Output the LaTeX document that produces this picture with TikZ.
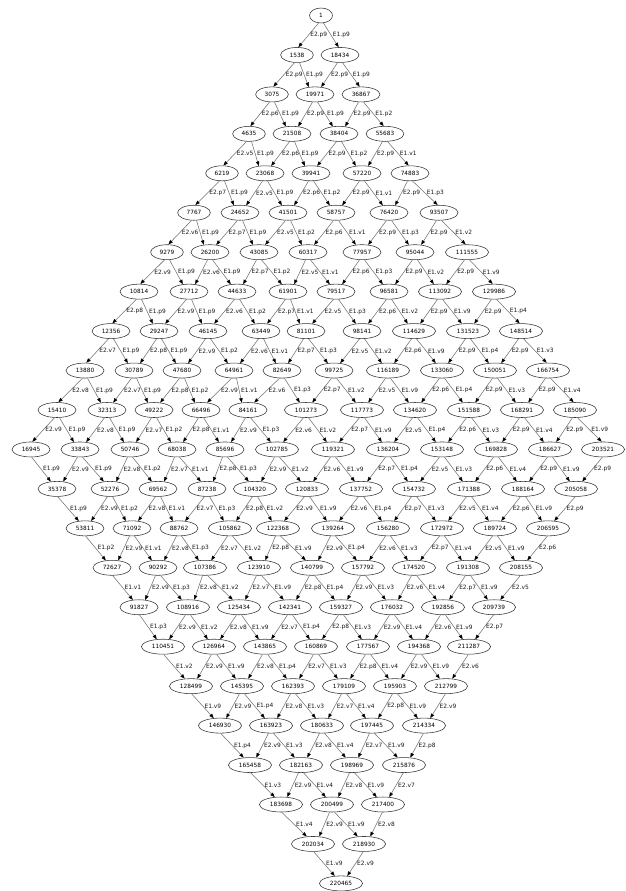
\documentclass[tikz,border=0pt]{standalone}
\usepackage{fontspec}
\setmainfont{DejaVu Sans}
\usetikzlibrary{shapes.geometric,arrows.meta}
\begin{document}
\begin{tikzpicture}[x=1pt,y=1pt,
  nd/.style={ellipse, draw=black!80, line width=0.55pt, inner xsep=4.2pt, inner ysep=0.5pt,
    minimum height=15pt, minimum width=23pt, font=\fontsize{5.8}{6}\selectfont},
  ed/.style={draw=black!55, line width=0.55pt, -{Triangle[length=4.5pt,width=3.4pt,color=black]}},
  lab/.style={anchor=west, inner sep=0pt, xshift=1.6pt, font=\fontsize{5.9}{6}\selectfont, text=black!90}]
\fill[white] (0,0) rectangle (626,-891);
\useasboundingbox (0,0) rectangle (626,-891);
\foreach \a/\b/\x/\v in {
0/0/321/1,
1/0/297/1538, 0/1/340/18434,
2/0/272/3075, 1/1/315/19971, 0/2/361/36867,
3/0/249/4635, 2/1/292/21508, 1/2/339/38404, 0/3/385/55683,
4/0/222/6219, 3/1/265/23068, 2/2/311/39941, 1/3/362/57220, 0/4/410/74883,
5/0/194/7767, 4/1/240/24652, 3/2/288/41501, 2/3/336/58757, 1/4/389/76420, 0/5/439/93507,
6/0/167/9279, 5/1/210/26200, 4/2/259/43085, 3/3/308/60317, 2/4/362/77957, 1/5/415/95044, 0/6/467/111555,
7/0/139/10814, 6/1/189/27712, 5/2/237/44633, 4/3/288/61901, 3/4/336/79517, 2/5/389/96581, 1/6/440/113092, 0/7/494/129986,
8/0/111/12356, 7/1/159/29247, 6/2/208/46145, 5/3/261/63449, 4/4/306/81101, 3/5/362/98141, 2/6/414/114629, 1/7/468/131523, 0/8/521/148514,
9/0/85/13880, 8/1/134/30789, 7/2/182/47680, 6/3/234/64961, 5/4/282/82649, 4/5/334/99725, 3/6/388/116189, 2/7/442/133060, 1/8/495/150051, 0/9/548/166754,
10/0/57/15410, 9/1/107/32313, 8/2/154/49222, 7/3/201/66496, 6/4/248/84161, 5/5/306/101273, 4/6/362/117773, 3/7/415/134620, 2/8/469/151588, 1/9/522/168291, 0/10/575/185090,
11/0/31/16945, 10/1/80/33843, 9/2/130/50746, 8/3/177/68038, 7/4/225/85696, 6/5/277/102785, 5/6/333/119321, 4/7/388/136204, 3/8/442/153148, 2/9/496/169828, 1/10/550/186627, 0/11/603/203521,
11/1/57/35378, 10/2/110/52276, 9/3/158/69562, 8/4/207/87238, 7/5/255/104320, 6/6/307/120833, 5/7/361/137752, 4/8/414/154732, 3/9/469/171388, 2/10/523/188164, 1/11/576/205058,
11/2/85/53811, 10/3/132/71092, 9/4/179/88762, 8/5/230/105862, 7/6/278/122368, 6/7/333/139264, 5/8/388/156280, 4/9/442/172972, 3/10/495/189724, 2/11/548/206595,
11/3/112/72627, 10/4/158/90292, 9/5/205/107386, 8/6/259/123910, 7/7/312/140799, 6/8/363/157792, 5/9/414/174520, 4/10/468/191308, 3/11/521/208155,
11/4/139/91827, 10/5/188/108916, 9/6/239/125434, 8/7/290/142341, 7/8/341/159327, 6/9/392/176032, 5/10/443/192856, 4/11/494/209739,
11/5/163/110451, 10/6/214/126964, 9/7/265/143865, 8/8/316/160869, 7/9/368/177567, 6/10/419/194368, 5/11/469/211287,
11/6/191/128499, 10/7/242/145395, 9/8/293/162393, 8/9/344/179109, 7/10/395/195903, 6/11/446/212799,
11/7/220/146930, 10/8/271/163923, 9/9/322/180633, 8/10/372/197445, 7/11/424/214334,
11/8/250/165458, 10/9/301/182163, 9/10/352/198969, 8/11/404/215876,
11/9/281/183698, 10/10/332/200499, 9/11/383/217400,
11/10/313/202034, 10/11/364/218930,
11/11/341/220465}{
  \pgfmathsetmacro\yy{-(15.5+39.45*(\a+\b))}
  \node[nd] (n-\a-\b) at (\x,\yy) {\v};
}
% E2 edges (down-left), label depends on source a
\foreach \a/\l in {0/p9,1/p9,2/p6,3/v5,4/p7,5/v6,6/v9,7/p8,8/v7,9/v8,10/v9}{
  \pgfmathtruncatemacro\na{\a+1}
  \foreach \b in {0,...,11}{
    \ifnum\b=0 \def\ta{80}\else\def\ta{50}\fi
    \ifnum\b=11 \def\sa{-95}\else\def\sa{-108}\fi
    \draw[ed] (n-\a-\b.\sa) -- node[lab]{E2.\l} (n-\na-\b.\ta);
  }
}
% E1 edges (down-right), label depends on source b
\foreach \b/\l in {0/p9,1/p9,2/p2,3/v1,4/p3,5/v2,6/v9,7/p4,8/v3,9/v4,10/v9}{
  \pgfmathtruncatemacro\nb{\b+1}
  \foreach \a in {0,...,11}{
    \ifnum\a=0 \def\ta{100}\else\def\ta{130}\fi
    \ifnum\a=11 \def\sa{-85}\else\def\sa{-72}\fi
    \draw[ed] (n-\a-\b.\sa) -- node[lab]{E1.\l} (n-\a-\nb.\ta);
  }
}
\end{tikzpicture}
\end{document}
